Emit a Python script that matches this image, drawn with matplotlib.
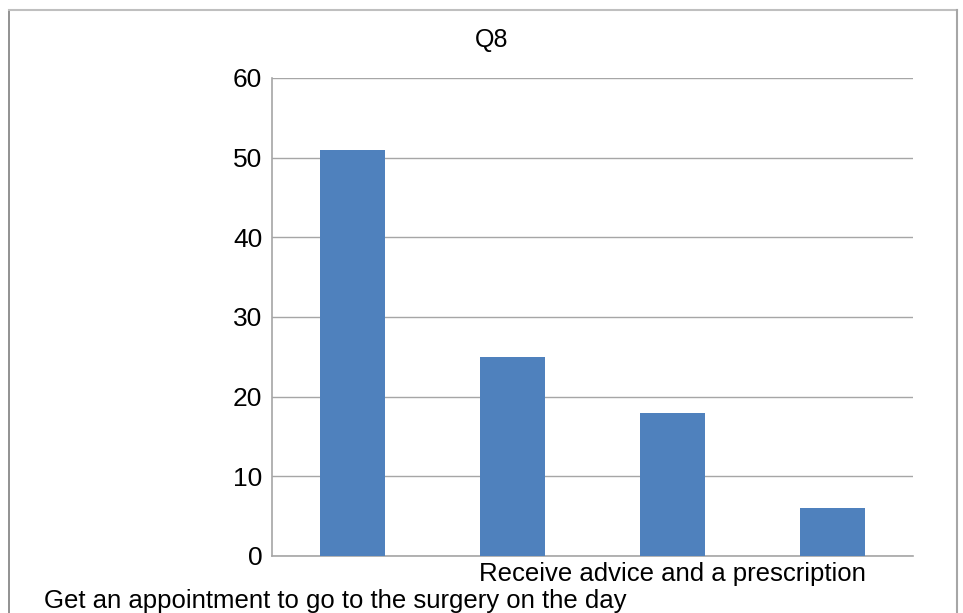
import matplotlib.pyplot as plt
from matplotlib.lines import Line2D

plt.rcParams["font.family"] = ["Liberation Sans", "DejaVu Sans"]

TITLE = "Q8"
CATEGORIES = [
    "Get an appointment to go to the surgery on the day",
    "",
    "Receive advice and a prescription",
    "",
]
VALUES = [51, 25, 18, 6]
Y_TICKS = [0, 10, 20, 30, 40, 50, 60]

BAR_COLOR = "#4f81bd"
GRID_COLOR = "#a6a6a6"

fig = plt.figure(figsize=(9.63, 6.13), dpi=100)
ax = fig.add_axes([0.2825, 0.093, 0.6656, 0.7798])

x = list(range(len(VALUES)))
ax.bar(x, VALUES, width=0.405, color=BAR_COLOR, zorder=3)

ax.set_xlim(-0.5, len(VALUES) - 0.5)
ax.set_ylim(0, 60)
ax.set_yticks(Y_TICKS)
ax.tick_params(axis="y", length=0, pad=7, labelsize=19)
ax.tick_params(axis="x", length=0)
ax.set_xticks([])
ax.yaxis.grid(True, color=GRID_COLOR, linewidth=1)
ax.set_axisbelow(True)

for side in ["top", "right"]:
    ax.spines[side].set_visible(False)
for side in ["left", "bottom"]:
    ax.spines[side].set_color("#a6a6a6")
    ax.spines[side].set_linewidth(1.2)

# staggered category labels (Excel style)
for i, label in enumerate(CATEGORIES):
    if not label:
        continue
    row = 1 if i % 4 == 0 else 0
    ax.annotate(label, xy=(i, 0), xycoords=("data", "axes fraction"),
                xytext=(-17 if row else 0, -6 - row * 27), textcoords="offset pixels",
                ha="center", va="top", fontsize=18.5)

fig.text(0.511, 0.935, TITLE, ha="center", va="center", fontsize=18)

# outer chart border
fig.add_artist(Line2D([0.0098, 0.0098], [0.0, 0.983], color="#7f7f7f", lw=1.2))
fig.add_artist(Line2D([0.0098, 0.9935], [0.983, 0.983], color="#bfbfbf", lw=1.5))
fig.add_artist(Line2D([0.9935, 0.9935], [0.0, 0.983], color="#a6a6a6", lw=1.5))

fig.savefig("out.png", dpi=100)
